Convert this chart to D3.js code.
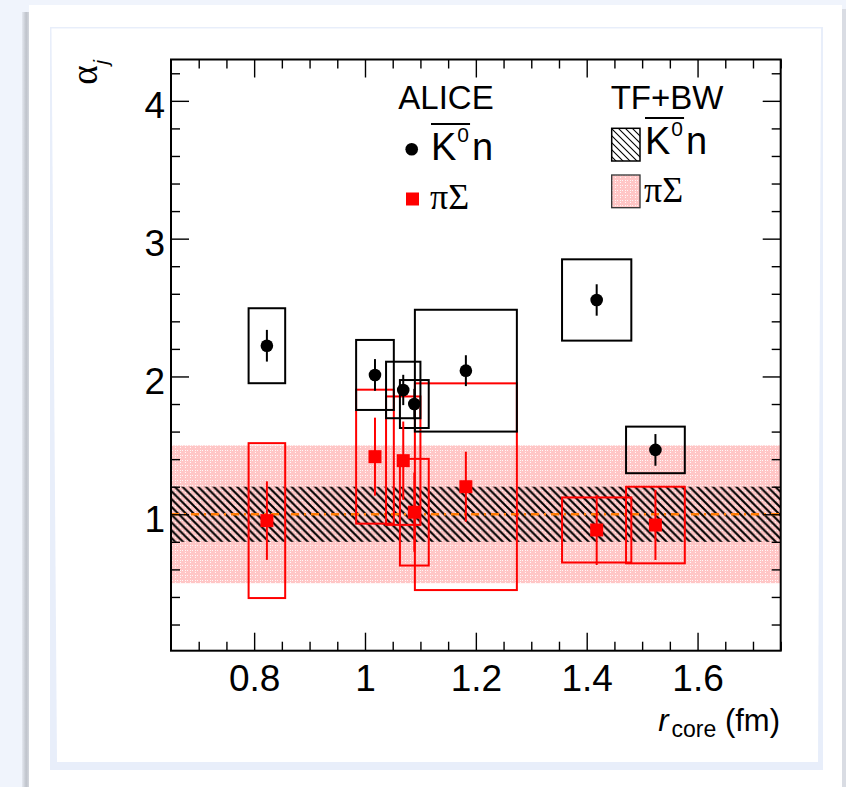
<!DOCTYPE html>
<html>
<head>
<meta charset="utf-8">
<script src="https://cdn.jsdelivr.net/npm/d3@7"></script>
<style>
  html, body { margin: 0; padding: 0; background: #f0f4fc; }
  svg { display: block; }
</style>
</head>
<body>
<svg id="chart" width="846" height="787"></svg>
<script>
// ---- data -------------------------------------------------------------
// core radius of each multiplicity class and half-width of its systematic box (fm)
const rCore    = [0.823, 1.018, 1.069, 1.089, 1.182, 1.418, 1.524];
const rCoreSys = [0.033, 0.034, 0.031, 0.026, 0.092, 0.0625, 0.053];

// alpha_j for the K0bar-n channel
const alphaKn     = [2.223, 2.011, 1.902, 1.800, 2.042, 2.555, 1.467];
const alphaKnStat = [0.115, 0.115, 0.110, 0.110, 0.112, 0.114, 0.115];
const alphaKnSys  = [0.272, 0.254, 0.205, 0.174, 0.442, 0.295, 0.169];

// alpha_j for the pi-Sigma channel
const alphaPiS     = [0.954, 1.418, 1.389, 1.015, 1.200, 0.886, 0.922];
const alphaPiSStat = [0.285, 0.283, 0.284, 0.287, 0.254, 0.254, 0.254];
const alphaPiSSys  = [0.562, 0.486, 0.466, 0.387, 0.750, 0.236, 0.278];

// TF+BW model expectation: central value and uncertainty bands
const modelCentral = 1.0;
const bandKn  = [0.8, 1.2];
const bandPiS = [0.5, 1.5];

// axes
const xDomain = [0.65, 1.75];
const yDomain = [0.01, 4.3];
const xMajor = [0.8, 1.0, 1.2, 1.4, 1.6];
const xTickLabels = ["0.8", "1", "1.2", "1.4", "1.6"];
const yMajor = [1, 2, 3, 4];
const yTickLabels = ["1", "2", "3", "4"];
const xMinorStep = 0.05;
const yMinorStep = 0.2;

// ---- layout -----------------------------------------------------------
const svg = d3.select("#chart");
const SANS = "'Liberation Sans', Arial, Helvetica, sans-serif";
const SERIF = "'Liberation Serif', 'Times New Roman', serif";

const plot = { left: 171, right: 780.7, top: 59.5, bottom: 650.7 };
const x = d3.scaleLinear().domain(xDomain).range([plot.left, plot.right]);
const y = d3.scaleLinear().domain(yDomain).range([plot.bottom, plot.top]);

// ---- page card ----------------------------------------------------------
const defs = svg.append("defs");
const sh = defs.append("linearGradient").attr("id", "cardShadow")
  .attr("x1", 0).attr("x2", 1).attr("y1", 0).attr("y2", 0);
sh.append("stop").attr("offset", 0).attr("stop-color", "#e4e8f0");
sh.append("stop").attr("offset", 0.6).attr("stop-color", "#bfc3cb");
sh.append("stop").attr("offset", 1).attr("stop-color", "#d3d6dd");

svg.append("rect").attr("x", 22).attr("y", 12).attr("width", 7).attr("height", 775)
  .attr("fill", "url(#cardShadow)");
svg.append("rect").attr("x", 29).attr("y", 5).attr("width", 813).attr("height", 782)
  .attr("fill", "#ffffff");
svg.append("rect").attr("x", 842).attr("y", 9).attr("width", 4).attr("height", 778)
  .attr("fill", "#d9dce3");
svg.append("rect").attr("x", 50).attr("y", 27).attr("width", 773).attr("height", 743)
  .attr("fill", "#e8eefa");
svg.append("polygon")
  .attr("points", "51.5,28.5 821,28.5 818,762 57,762")
  .attr("fill", "#ffffff");

// ---- fill patterns ------------------------------------------------------
const hatch = defs.append("pattern").attr("id", "hatchK")
  .attr("patternUnits", "userSpaceOnUse").attr("width", 7.8).attr("height", 7.8);
hatch.append("path")
  .attr("d", "M-2,-2 L9.8,9.8 M-2,5.8 L2,9.8 M5.8,-2 L9.8,2")
  .attr("stroke", "#000").attr("stroke-width", 2.1).attr("fill", "none");

const hatchLeg = defs.append("pattern").attr("id", "hatchLeg")
  .attr("patternUnits", "userSpaceOnUse").attr("width", 7).attr("height", 7);
hatchLeg.append("path")
  .attr("d", "M-2,-2 L9,9 M-2,5 L2,9 M5,-2 L9,2")
  .attr("stroke", "#000").attr("stroke-width", 1.1).attr("fill", "none");

const dots = defs.append("pattern").attr("id", "pinkDots")
  .attr("patternUnits", "userSpaceOnUse").attr("width", 5).attr("height", 5);
dots.append("rect").attr("width", 5).attr("height", 5).attr("fill", "#ffc6c6");
dots.append("rect").attr("x", 0).attr("y", 0).attr("width", 1).attr("height", 1).attr("fill", "#fff").attr("opacity", 0.85);
dots.append("rect").attr("x", 2).attr("y", 0).attr("width", 1).attr("height", 1).attr("fill", "#fff").attr("opacity", 0.85);
dots.append("rect").attr("x", 0).attr("y", 2).attr("width", 1).attr("height", 1).attr("fill", "#fff").attr("opacity", 0.85);

// ---- model bands ----------------------------------------------------------
svg.append("rect")
  .attr("x", x(xDomain[0])).attr("width", x(xDomain[1]) - x(xDomain[0]))
  .attr("y", y(bandPiS[1])).attr("height", y(bandPiS[0]) - y(bandPiS[1]))
  .attr("fill", "url(#pinkDots)");
svg.append("rect")
  .attr("x", x(xDomain[0])).attr("width", x(xDomain[1]) - x(xDomain[0]))
  .attr("y", y(bandKn[1])).attr("height", y(bandKn[0]) - y(bandKn[1]))
  .attr("fill", "url(#hatchK)");
svg.append("line")
  .attr("x1", x(xDomain[0])).attr("x2", x(xDomain[1]))
  .attr("y1", y(modelCentral)).attr("y2", y(modelCentral))
  .attr("stroke", "#ff7a00").attr("stroke-width", 2.6)
  .attr("stroke-dasharray", "8,5,2,5");

// ---- data points -----------------------------------------------------------
const idx = d3.range(rCore.length);

function sysBoxes(vals, sys, color) {
  svg.append("g").selectAll("rect").data(idx).join("rect")
    .attr("x", i => x(rCore[i] - rCoreSys[i]))
    .attr("width", i => x(rCore[i] + rCoreSys[i]) - x(rCore[i] - rCoreSys[i]))
    .attr("y", i => y(vals[i] + sys[i]))
    .attr("height", i => y(vals[i] - sys[i]) - y(vals[i] + sys[i]))
    .attr("fill", "none").attr("stroke", color).attr("stroke-width", 2);
}
function statBars(vals, stat, color) {
  svg.append("g").selectAll("line").data(idx).join("line")
    .attr("x1", i => x(rCore[i])).attr("x2", i => x(rCore[i]))
    .attr("y1", i => y(vals[i] + stat[i])).attr("y2", i => y(vals[i] - stat[i]))
    .attr("stroke", color).attr("stroke-width", 2);
}

sysBoxes(alphaPiS, alphaPiSSys, "#ff0000");
sysBoxes(alphaKn, alphaKnSys, "#000000");

statBars(alphaPiS, alphaPiSStat, "#ff0000");
svg.append("g").selectAll("rect").data(idx).join("rect")
  .attr("x", i => x(rCore[i]) - 6.5).attr("y", i => y(alphaPiS[i]) - 6.5)
  .attr("width", 13).attr("height", 13).attr("fill", "#ff0000");

statBars(alphaKn, alphaKnStat, "#000000");
svg.append("g").selectAll("circle").data(idx).join("circle")
  .attr("cx", i => x(rCore[i])).attr("cy", i => y(alphaKn[i]))
  .attr("r", 6.3).attr("fill", "#000");

// ---- axes -------------------------------------------------------------------
const xMinor = d3.range(xDomain[0] + xMinorStep, xDomain[1] + 1e-6, xMinorStep)
  .filter(v => !xMajor.some(m => Math.abs(m - v) < 1e-6));
const yMinor = d3.range(yMinorStep, yDomain[1], yMinorStep)
  .filter(v => !yMajor.some(m => Math.abs(m - v) < 1e-6));

function styleAxis(g) {
  g.select(".domain").remove();
  g.selectAll(".tick line").attr("stroke", "#000").attr("stroke-width", 1.4);
}

// bottom
const gxB = svg.append("g").attr("transform", `translate(0,${plot.bottom})`)
  .call(d3.axisBottom(x).tickValues(xMajor).tickSize(-18).tickSizeOuter(0)
    .tickFormat((d, i) => xTickLabels[i]));
styleAxis(gxB);
gxB.selectAll("text").attr("y", 40).attr("dy", null)
  .attr("font-family", SANS).attr("font-size", 37).attr("fill", "#000");
svg.append("g").attr("transform", `translate(0,${plot.bottom})`)
  .call(d3.axisBottom(x).tickValues(xMinor).tickSize(-9).tickSizeOuter(0).tickFormat(""))
  .call(styleAxis);
// top
svg.append("g").attr("transform", `translate(0,${plot.top})`)
  .call(d3.axisTop(x).tickValues(xMajor).tickSize(-18).tickSizeOuter(0).tickFormat(""))
  .call(styleAxis);
svg.append("g").attr("transform", `translate(0,${plot.top})`)
  .call(d3.axisTop(x).tickValues(xMinor).tickSize(-9).tickSizeOuter(0).tickFormat(""))
  .call(styleAxis);
// left
const gyL = svg.append("g").attr("transform", `translate(${plot.left},0)`)
  .call(d3.axisLeft(y).tickValues(yMajor).tickSize(-18).tickSizeOuter(0)
    .tickFormat((d, i) => yTickLabels[i]));
styleAxis(gyL);
gyL.selectAll("text").attr("x", -6).attr("dy", 17)
  .attr("font-family", SANS).attr("font-size", 37).attr("fill", "#000");
svg.append("g").attr("transform", `translate(${plot.left},0)`)
  .call(d3.axisLeft(y).tickValues(yMinor).tickSize(-9).tickSizeOuter(0).tickFormat(""))
  .call(styleAxis);
// right
svg.append("g").attr("transform", `translate(${plot.right},0)`)
  .call(d3.axisRight(y).tickValues(yMajor).tickSize(-18).tickSizeOuter(0).tickFormat(""))
  .call(styleAxis);
svg.append("g").attr("transform", `translate(${plot.right},0)`)
  .call(d3.axisRight(y).tickValues(yMinor).tickSize(-9).tickSizeOuter(0).tickFormat(""))
  .call(styleAxis);

// frame
svg.append("rect")
  .attr("x", plot.left).attr("y", plot.top)
  .attr("width", plot.right - plot.left).attr("height", plot.bottom - plot.top)
  .attr("fill", "none").attr("stroke", "#000").attr("stroke-width", 2);

// ---- axis titles ------------------------------------------------------------
const xt = svg.append("text")
  .attr("x", 780).attr("y", 731)
  .attr("text-anchor", "end").attr("font-family", SANS).attr("font-size", 31).attr("fill", "#000");
xt.append("tspan").attr("font-style", "italic").text("r");
xt.append("tspan").attr("font-size", 23).attr("dy", 6).attr("dx", 3).text("core");
xt.append("tspan").attr("dy", -6).text(" (fm)");

const yt = svg.append("text")
  .attr("transform", "translate(97,60) rotate(-90)")
  .attr("text-anchor", "end").attr("font-family", SERIF).attr("font-size", 37).attr("fill", "#000");
yt.append("tspan").text("\u03b1");
yt.append("tspan").attr("font-size", 20).attr("font-style", "italic")
  .attr("font-family", SANS).attr("dy", 11).attr("dx", 1).text("j");

// ---- legend -----------------------------------------------------------------
function knLabel(x0, baseline) {
  const t = svg.append("text").attr("x", x0).attr("y", baseline)
    .attr("font-family", SANS).attr("font-size", 38).attr("fill", "#000");
  t.append("tspan").text("K");
  t.append("tspan").attr("font-size", 21).attr("dy", -18).attr("dx", 1).text("0");
  t.append("tspan").attr("dy", 18).attr("dx", 3).text("n");
  const w = t.node().getSubStringLength(0, 2) + 2;
  svg.append("line").attr("x1", x0).attr("x2", x0 + w)
    .attr("y1", baseline - 36).attr("y2", baseline - 36)
    .attr("stroke", "#000").attr("stroke-width", 2.2);
}
function piSigmaLabel(x0, baseline) {
  svg.append("text").attr("x", x0).attr("y", baseline)
    .attr("font-family", SERIF).attr("font-size", 36).attr("fill", "#000")
    .text("\u03c0\u03a3");
}

// ALICE column
svg.append("text").attr("x", 446).attr("y", 109)
  .attr("text-anchor", "middle").attr("font-family", SANS).attr("font-size", 33)
  .attr("fill", "#000").text("ALICE");
svg.append("circle").attr("cx", 411.7).attr("cy", 149.3).attr("r", 6.3).attr("fill", "#000");
knLabel(431, 160);
svg.append("rect").attr("x", 406).attr("y", 192.5).attr("width", 13).attr("height", 13).attr("fill", "#ff0000");
piSigmaLabel(430, 209);

// TF+BW column
svg.append("text").attr("x", 667).attr("y", 109)
  .attr("text-anchor", "middle").attr("font-family", SANS).attr("font-size", 33)
  .attr("fill", "#000").text("TF+BW");
svg.append("rect").attr("x", 611.7).attr("y", 128.3).attr("width", 28.3).attr("height", 32.7)
  .attr("fill", "url(#hatchLeg)").attr("stroke", "#000").attr("stroke-width", 1.5);
knLabel(645, 154);
svg.append("rect").attr("x", 611.7).attr("y", 175).attr("width", 28.3).attr("height", 32.7)
  .attr("fill", "url(#pinkDots)").attr("stroke", "#333").attr("stroke-width", 1.3);
piSigmaLabel(644, 202);
</script>
</body>
</html>
